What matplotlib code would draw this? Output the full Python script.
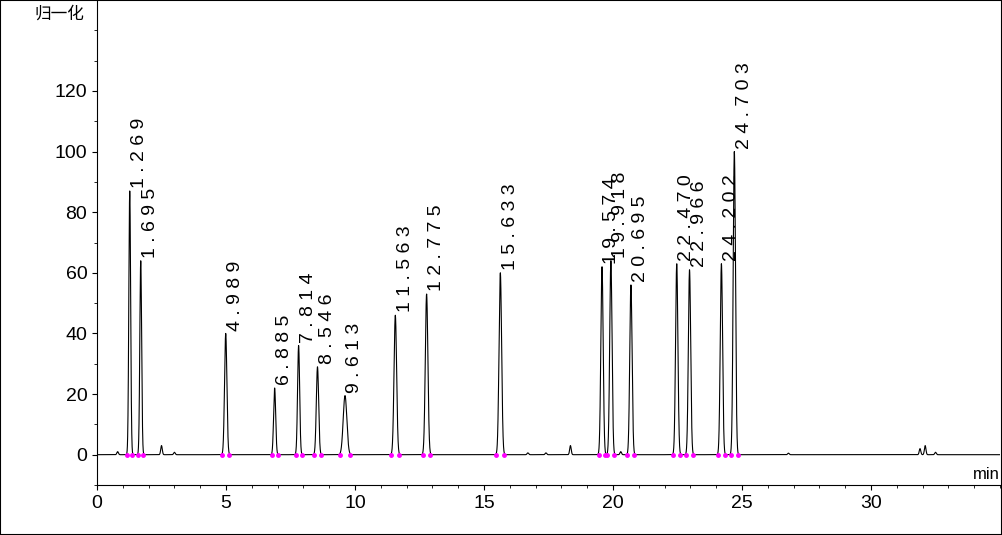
import numpy as np
import matplotlib
matplotlib.use("Agg")
import matplotlib.pyplot as plt
from matplotlib.ticker import MultipleLocator

rt = [1.269, 1.695, 4.989, 6.885, 7.814, 8.546, 9.613, 11.563, 12.775, 15.633,
      19.574, 19.918, 20.695, 22.470, 22.966, 24.202, 24.703]
height = [87, 64, 40, 22, 36, 29, 19.5, 46, 53, 60, 62, 64, 56, 63, 61, 63, 100]
width = [0.035, 0.035, 0.045, 0.04, 0.04, 0.045, 0.07, 0.05, 0.05, 0.05,
         0.045, 0.045, 0.045, 0.045, 0.045, 0.045, 0.045]
minor_rt = [0.8, 2.5, 3.0, 16.7, 17.4, 18.35, 20.3, 26.8, 31.9, 32.1, 32.5]
minor_h = [1.0, 3.0, 0.8, 0.6, 0.6, 3.0, 1.0, 0.5, 2.0, 3.0, 0.8]
labels = ["1.269", "1.695", "4.989", "6.885", "7.814", "8.546", "9.613", "11.563",
          "12.775", "15.633", "19.574", "19.918", "20.695", "22.470", "22.966",
          "24.202", "24.703"]

plt.rcParams['font.family'] = ['Liberation Sans', 'Noto Sans CJK SC', 'DejaVu Sans']
fig = plt.figure(figsize=(10.02, 5.35), dpi=100)
ax = fig.add_axes([97/1002, 50/535, 903/1002, 485/535])
t = np.linspace(0, 35, 20000)
y = np.zeros_like(t)
for r, h, w in zip(rt, height, width):
    y += h * np.exp(-0.5 * ((t - r) / w) ** 2)
for r, h in zip(minor_rt, minor_h):
    y += h * np.exp(-0.5 * ((t - r) / 0.03) ** 2)
ax.plot(t, y, color='black', lw=0.8)
for r, w in zip(rt, width):
    ax.plot([r - 3 * w, r + 3 * w], [0, 0], ls='none', marker='o', ms=2.5, color='magenta')
for r, h, lab in zip(rt, height, labels):
    ax.annotate(" ".join(lab), (r, h), xytext=(1, 2), textcoords='offset points',
                rotation=90, ha='left', va='bottom', fontsize=14)
ax.set_xlim(0, 35)
ax.set_ylim(-10, 150)
ax.set_xticks([0, 5, 10, 15, 20, 25, 30])
ax.xaxis.set_minor_locator(MultipleLocator(1))
ax.yaxis.set_minor_locator(MultipleLocator(10))
ax.set_yticks([0, 20, 40, 60, 80, 100, 120])
ax.tick_params(labelsize=14, direction='out')
for s in ['top', 'right']:
    ax.spines[s].set_visible(False)
ax.text(-0.5, 148, "归一化", ha='right', va='top', fontsize=12)
ax.text(35, -9, "min", ha='right', va='bottom', fontsize=12)
fig.patches.append(plt.Rectangle((0, 0), 1, 1, transform=fig.transFigure,
                                 fill=False, edgecolor='black', lw=1.5))
fig.savefig("out.png", dpi=100)
